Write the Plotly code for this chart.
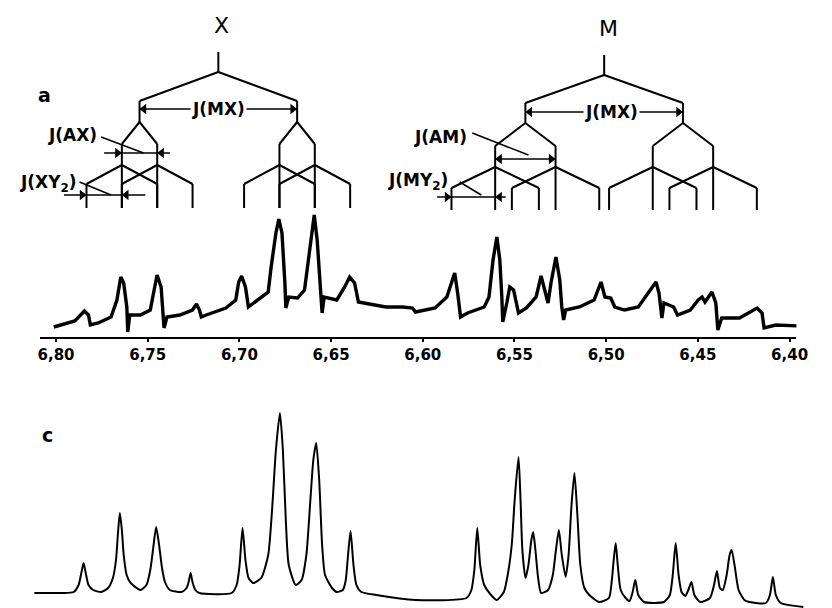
import plotly.graph_objects as go

# ---------------- data ----------------
# b: observed 1H spectrum (chemical shift in ppm, relative intensity)
b_ppm = [6.8012, 6.7968, 6.7898, 6.7866, 6.7845, 6.7823, 6.7813, 6.7770, 6.7700, 6.7668,
         6.7647, 6.7631, 6.7614, 6.7609, 6.7598, 6.7540, 6.7486, 6.7465, 6.7449, 6.7427,
         6.7416, 6.7411, 6.7395, 6.7325, 6.7256, 6.7234, 6.7218, 6.7208, 6.7181, 6.7074,
         6.7020, 6.7004, 6.6988, 6.6967, 6.6951, 6.6897, 6.6843, 6.6827, 6.6801, 6.6785,
         6.6768, 6.6752, 6.6747, 6.6731, 6.6683, 6.6645, 6.6619, 6.6592, 6.6576, 6.6560,
         6.6549, 6.6538, 6.6506, 6.6469, 6.6426, 6.6399, 6.6372, 6.6351, 6.6292, 6.6201,
         6.6110, 6.6056,
         6.6040, 6.5933, 6.5869, 6.5826, 6.5810, 6.5794, 6.5756, 6.5665, 6.5639, 6.5617,
         6.5596, 6.5580, 6.5569, 6.5564, 6.5542, 6.5526, 6.5505, 6.5478, 6.5435, 6.5382,
         6.5355, 6.5333, 6.5317, 6.5301, 6.5274, 6.5253, 6.5242, 6.5232, 6.5221, 6.5146,
         6.5066, 6.5028, 6.5007, 6.4975, 6.4953, 6.4900, 6.4825, 6.4771, 6.4728, 6.4712,
         6.4702, 6.4696, 6.4685, 6.4632, 6.4611, 6.4541, 6.4498, 6.4477, 6.4461, 6.4423,
         6.4402, 6.4391, 6.4370, 6.4273, 6.4177, 6.4150, 6.4139, 6.4075, 6.3941]
b_int = [10, 12, 16, 22, 26, 22, 12, 14, 20, 37,
         60, 54, 30, 5, 22, 22, 27, 47, 62, 50,
         27, 9, 20, 22, 27, 33, 27, 20, 22, 29,
         37, 55, 61, 50, 30, 37, 45, 70, 104, 118,
         104, 54, 29, 40, 39, 47, 87, 122, 97, 54,
         24, 40, 39, 37, 50, 60, 54, 35, 33, 30,
         30, 29,
         25, 29, 40, 64, 44, 20, 24, 30, 40, 77,
         100, 77, 40, 15, 34, 50, 47, 24, 29, 40,
         61, 47, 34, 54, 80, 57, 30, 17, 27, 30,
         37, 55, 40, 39, 30, 27, 30, 44, 55, 44,
         24, 19, 34, 30, 22, 27, 37, 40, 35, 45,
         34, 7, 19, 19, 29, 24, 9, 12, 11]

# c: calculated spectrum
c_ppm = [6.8118, 6.7968, 6.7904, 6.7877, 6.7861, 6.7850, 6.7839, 6.7823, 6.7797, 6.7754,
         6.7716, 6.7690, 6.7673, 6.7663, 6.7652, 6.7641, 6.7631, 6.7615, 6.7593, 6.7540,
         6.7507, 6.7486, 6.7470, 6.7454, 6.7438, 6.7422, 6.7406, 6.7379,
         6.7315, 6.7288, 6.7277, 6.7266, 6.7256, 6.7240, 6.7218,
         6.7042, 6.7015, 6.6999, 6.6983, 6.6967, 6.6950, 6.6924,
         6.6881, 6.6843, 6.6822, 6.6801, 6.6779, 6.6763, 6.6747, 6.6731, 6.6693,
         6.6661, 6.6635, 6.6613, 6.6597, 6.6581, 6.6565, 6.6549, 6.6533, 6.6495, 6.6469,
         6.6436, 6.6420, 6.6410, 6.6394, 6.6378, 6.6362, 6.6335, 6.6254, 6.6040, 6.5762,
         6.5735, 6.5719, 6.5703, 6.5687, 6.5665, 6.5628, 6.5596,
         6.5558, 6.5537, 6.5515, 6.5499, 6.5478, 6.5467, 6.5457, 6.5440, 6.5424, 6.5408,
         6.5398, 6.5387, 6.5371, 6.5355,
         6.5317, 6.5291, 6.5274, 6.5258, 6.5242, 6.5221, 6.5205, 6.5189, 6.5173, 6.5157,
         6.5141, 6.5119, 6.5092, 6.5039,
         6.4985, 6.4969, 6.4959, 6.4948, 6.4937, 6.4921, 6.4894, 6.4873, 6.4857, 6.4841,
         6.4825, 6.4793,
         6.4685, 6.4653, 6.4637, 6.4621, 6.4605, 6.4589, 6.4568, 6.4552, 6.4535, 6.4519,
         6.4487,
         6.4434, 6.4412, 6.4396, 6.4380, 6.4364, 6.4343, 6.4327, 6.4316, 6.4300, 6.4278,
         6.4246, 6.4220,
         6.4129, 6.4107, 6.4091, 6.4075, 6.4048, 6.3925]
c_int = [15, 15, 16, 23, 36, 45, 36, 23, 18, 16,
         20, 30, 48, 73, 95, 78, 53, 33, 25, 18,
         23, 38, 60, 81, 63, 40, 26, 18,
         16, 20, 26, 35, 26, 18, 15,
         15, 23, 43, 80, 48, 30, 25,
         30, 53, 98, 158, 195, 158, 88, 43, 23,
         28, 53, 108, 148, 165, 128, 63, 33, 20, 16,
         18, 28, 48, 77, 43, 23, 16, 13, 8, 10,
         18, 38, 80, 43, 23, 13, 8,
         16, 33, 63, 108, 151, 108, 58, 30, 43, 68,
         76, 60, 30, 15,
         18, 33, 58, 78, 53, 31, 53, 103, 135, 93,
         43, 20, 13, 6,
         10, 28, 48, 65, 43, 18, 10, 7, 15, 28,
         13, 6,
         6, 13, 33, 65, 33, 16, 12, 18, 26, 13,
         6,
         10, 23, 37, 20, 18, 33, 53, 58, 43, 18,
         8, 6,
         5, 13, 31, 13, 5, 1]

# a: first-order splitting trees (ppm)
shift_X = 6.7115
shift_M = 6.5011
J_MX = 0.08594
J_AX = 0.01928
J_XY2 = 0.01928
J_AM = 0.03293
J_MY2 = 0.02383

tick_vals = [6.80, 6.75, 6.70, 6.65, 6.60, 6.55, 6.50, 6.45, 6.40]
tick_text = ["6,80", "6,75", "6,70", "6,65", "6,60", "6,55", "6,50", "6,45", "6,40"]

# ---------------- layout constants ----------------
W, H = 832, 608
X_RANGE = [6.82892, 6.38340]          # full-width ppm scale
AX_DOM = [38 / W, 808 / W]            # drawn ppm axis
AX_RANGE = [6.80857, 6.39625]
PPM_PER_PX = (X_RANGE[0] - X_RANGE[1]) / W
FONT = "DejaVu Sans"

# vertical levels of the trees (tree axis runs top-down)
LEV_X = [52, 72, 101, 122, 144, 165, 184, 208]
LEV_M = [55, 75, 103, 123, 146, 167, 188, 210]


def tree(center, j1, j2, j3, lv):
    xs, ys = [], []

    def seg(x0, y0, x1, y1):
        xs.extend([x0, x1, None])
        ys.extend([y0, y1, None])

    seg(center, lv[0], center, lv[1])
    for s1 in (-1, 1):
        p1 = center + s1 * j1 / 2
        seg(center, lv[1], p1, lv[2])
        seg(p1, lv[2], p1, lv[3])
        for s2 in (-1, 1):
            p2 = p1 + s2 * j2 / 2
            seg(p1, lv[3], p2, lv[4])
            seg(p2, lv[4], p2, lv[7])
            for s3 in (-1, 1):
                p3 = p2 + s3 * j3
                seg(p2, lv[5], p3, lv[6])
                seg(p3, lv[6], p3, lv[7])
    return xs, ys


fig = go.Figure()

tx, ty = tree(shift_X, J_MX, J_AX, J_XY2, LEV_X)
mx, my = tree(shift_M, J_MX, J_AM, J_MY2, LEV_M)
fig.add_trace(go.Scatter(x=tx + mx, y=ty + my, mode="lines", xaxis="x", yaxis="y3",
                         line=dict(color="black", width=2), hoverinfo="skip",
                         showlegend=False))

# coupling-constant bars: (start, end, level) and arrow heads (tip, direction)
xl_left = shift_X + J_MX / 2
ml_left = shift_M + J_MX / 2
xa = xl_left + J_AX / 2
xb = xl_left - J_AX / 2
ma = ml_left + J_AM / 2
mb = ml_left - J_AM / 2

bars = [
    (xl_left, shift_X - J_MX / 2, 109),     # J(MX) for X
    (ml_left, shift_M - J_MX / 2, 112),     # J(MX) for M
    (6.7738, 6.7379, 153),                  # J(AX)
    (6.7957, 6.7513, 195),                  # J(XY2)
    (ma, mb, 159),                          # J(AM)
    (6.5922, 6.5548, 197),                  # J(MY2)
]
leaders = [
    (6.7754, 137, 6.7523, 153),
    (6.7872, 182, 6.7700, 195),
    (6.5730, 133, 6.5424, 155),
    (6.5799, 182, 6.5681, 195),
]
# direction +1: head points to lower ppm (right on the page)
heads = [
    (xl_left, 109, -1), (shift_X - J_MX / 2, 109, +1),
    (ml_left, 112, -1), (shift_M - J_MX / 2, 112, +1),
    (ma, 159, -1), (mb, 159, +1),
    (xa, 153, +1), (xb, 153, -1),
    (xa + J_XY2, 195, +1), (xa, 195, -1),
    (ma + J_MY2, 197, +1), (ma, 197, -1),
]

lx, ly = [], []
for x0, x1, y in bars:
    lx += [x0, x1, None]
    ly += [y, y, None]
for x0, y0, x1, y1 in leaders:
    lx += [x0, x1, None]
    ly += [y0, y1, None]
fig.add_trace(go.Scatter(x=lx, y=ly, mode="lines", xaxis="x", yaxis="y3",
                         line=dict(color="black", width=1.6), hoverinfo="skip",
                         showlegend=False))

HEAD = 9
off = HEAD / 2 * PPM_PER_PX
fig.add_trace(go.Scatter(
    x=[h[0] + h[2] * off for h in heads], y=[h[1] for h in heads],
    mode="markers", xaxis="x", yaxis="y3", hoverinfo="skip", showlegend=False,
    marker=dict(size=HEAD, color="black", line=dict(width=0),
                symbol=["triangle-right" if h[2] > 0 else "triangle-left" for h in heads])))

fig.add_trace(go.Scatter(x=b_ppm, y=b_int, mode="lines", xaxis="x2", yaxis="y2",
                         line=dict(color="black", width=3.4), hoverinfo="skip",
                         showlegend=False))
fig.add_trace(go.Scatter(x=c_ppm, y=c_int, mode="lines", xaxis="x", yaxis="y",
                         line=dict(color="black", width=2, shape="spline", smoothing=0.6),
                         hoverinfo="skip", showlegend=False))

ann = []


def label(text, x, y, yref, size=17, bg=None, bold=True):
    d = dict(x=x, y=y, xref="x" if yref != "y2" else "x2", yref=yref,
             text=("<b>" + text + "</b>") if bold else text,
             showarrow=False, font=dict(family=FONT, size=size, color="black"))
    if bg:
        d["bgcolor"] = bg
        d["borderpad"] = 1
    ann.append(d)


label("J(MX)", shift_X, 109, "y3", bg="white")
label("J(MX)", 6.4969, 112, "y3", bg="white")
label("J(AX)", 6.7909, 135, "y3")
label("J(XY<sub>2</sub>)", 6.8043, 183, "y3")
label("J(AM)", 6.5906, 137, "y3")
label("J(MY<sub>2</sub>)", 6.6024, 181, "y3")
label("X", 6.7100, 25, "y3", size=22, bold=False)
label("M", 6.4985, 28, "y3", size=22, bold=False)
label("a", 6.8064, 95, "y3", size=19)
label("b", 6.8086, 97, "y2", size=19)
label("c", 6.8048, 173, "y", size=19)

hidden = dict(visible=False, showgrid=False, zeroline=False)
fig.update_layout(
    width=W, height=H, autosize=False,
    margin=dict(l=0, r=0, t=0, b=0, pad=0),
    paper_bgcolor="white", plot_bgcolor="rgba(0,0,0,0)",
    showlegend=False,
    xaxis=dict(range=X_RANGE, domain=[0, 1], anchor="y", **hidden),
    yaxis=dict(range=[0, 213], domain=[0, 1 - 395 / H], anchor="x", **hidden),
    xaxis2=dict(range=AX_RANGE, domain=AX_DOM, anchor="y2", visible=True,
                showgrid=False, zeroline=False, showline=True, linecolor="black",
                linewidth=2, ticks="outside", ticklen=3, tickwidth=2, tickcolor="black",
                tickvals=tick_vals, ticktext=[f"<b>{t}</b>" for t in tick_text],
                tickfont=dict(family=FONT, size=15, color="black")),
    yaxis2=dict(range=[0, 167], domain=[1 - 337 / H, 1 - 170 / H], anchor="x2", **hidden),
    yaxis3=dict(range=[215, 0], domain=[1 - 215 / H, 1], anchor="x", **hidden),
    annotations=ann,
)

fig.write_html("out.html")
